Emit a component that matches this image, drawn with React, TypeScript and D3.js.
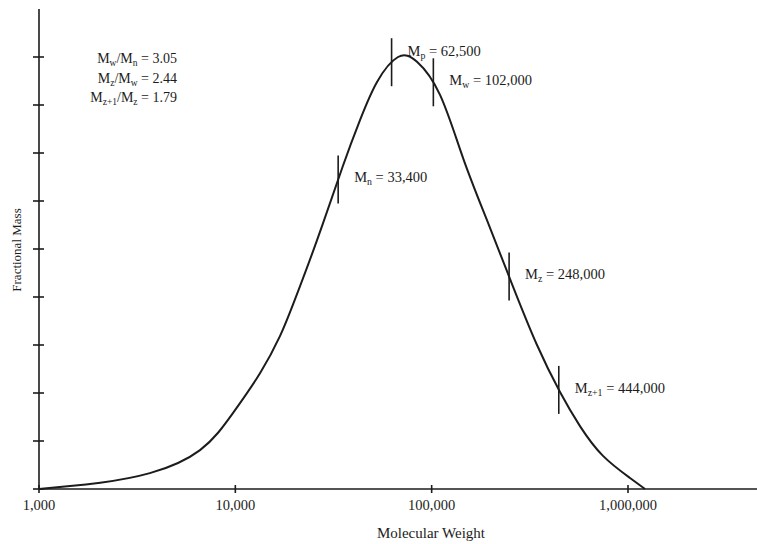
import React, { useLayoutEffect, useRef, useState } from "react";
import * as d3 from "d3";

// Distribution curve: molecular weight vs fractional mass (tick units)
const curveMW = [1000, 1440, 2050, 3670, 6610, 9720, 13400, 16900, 19700, 26100, 35300, 43200, 52700, 67400, 84200, 110300, 144400, 191300, 256600, 344000, 450500, 569400, 745900, 1024000, 1221000];
const curveMass = [0, 0.06, 0.13, 0.33, 0.81, 1.58, 2.42, 3.19, 3.85, 5.19, 6.73, 7.69, 8.48, 9.0, 8.9, 8.21, 6.9, 5.6, 4.27, 3.0, 2.02, 1.31, 0.69, 0.23, 0];

// Molecular weight averages
const markerSubs = ["n", "p", "w", "z", "z+1"];
const markerValues = [33400, 62500, 102000, 248000, 444000];

// Ratios shown top-left
const ratioNum = ["w", "z", "z+1"];
const ratioDen = ["n", "w", "z"];
const ratioValues = ["3.05", "2.44", "1.79"];

// Axis ticks
const xTicks = [1000, 10000, 100000, 1000000];
const yTicks = [0, 1, 2, 3, 4, 5, 6, 7, 8, 9];

const W = 757;
const H = 544;
const FONT = "'Liberation Serif', 'Times New Roman', serif";
const INK = "#1c1c1c";
const HALF = 24;

function Sub({ s, size }: { s: string; size: number }) {
  return (
    <>
      <tspan dy={3} fontSize={size * 0.68}>{s}</tspan>
      <tspan dy={-3}>{"\u200B"}</tspan>
    </>
  );
}

export default function App() {
  const x = d3.scaleLog().domain([1000, 1000000]).range([39, 628]);
  const y = d3.scaleLinear().domain([0, 10]).range([489, 9]);

  const pts: [number, number][] = curveMW.map((m, i) => [x(m), y(curveMass[i])]);
  const line = d3.line().curve(d3.curveNatural)(pts) || "";

  const logs = curveMW.map((v) => Math.log10(v));
  const interp = (m: number) => {
    const lx = Math.log10(m);
    const i = Math.max(1, d3.bisectLeft(logs, lx));
    const t = (lx - logs[i - 1]) / (logs[i] - logs[i - 1]);
    return y(curveMass[i - 1] + t * (curveMass[i] - curveMass[i - 1]));
  };

  const pathRef = useRef<SVGPathElement>(null);
  const [onCurve, setOnCurve] = useState<number[] | null>(null);

  useLayoutEffect(() => {
    const p = pathRef.current;
    if (!p || !p.getTotalLength) return;
    const L = p.getTotalLength();
    const samples: { x: number; y: number }[] = [];
    for (let l = 0; l <= L; l += 0.5) {
      const q = p.getPointAtLength(l);
      samples.push({ x: q.x, y: q.y });
    }
    const ys = markerValues.map((m) => {
      const cx = x(m);
      let best = samples[0];
      let bd = Infinity;
      for (const s of samples) {
        const d = Math.abs(s.x - cx);
        if (d < bd) {
          bd = d;
          best = s;
        }
      }
      return best.y;
    });
    setOnCurve(ys);
  }, []);

  const fs = 14.5;
  const fmt = d3.format(",");

  const cys = markerValues.map((m, i) => (onCurve ? onCurve[i] : interp(m)));
  // label baselines: next to the marker, lifted if it would run into the next marker line
  const labelY = markerValues.map((m, i) => {
    let b = cys[i] + 3;
    const next = i + 1;
    if (next < markerValues.length) {
      const labelEnd = x(m) + 16 + 80;
      const nextTop = cys[next] - HALF;
      const nextBottom = cys[next] + HALF;
      const overlapsV = b > nextTop - 2 && b - 12 < nextBottom;
      if (x(markerValues[next]) < labelEnd && overlapsV) b = nextTop - 2;
    }
    return b;
  });

  return (
    <div style={{ position: "fixed", left: 0, top: 0 }}>
      <svg width={W} height={H} style={{ display: "block", background: "#fff" }} fontFamily={FONT}>
        {/* y axis */}
        <line x1={x(1000)} x2={x(1000)} y1={y(10)} y2={y(0)} stroke={INK} strokeWidth={1.6} />
        {yTicks.map((t) => (
          <line key={t} x1={x(1000) - 6} x2={x(1000) + 5} y1={y(t)} y2={y(t)} stroke={INK} strokeWidth={1.6} />
        ))}
        {/* x axis */}
        <line x1={x(1000)} x2={W} y1={y(0)} y2={y(0)} stroke={INK} strokeWidth={1.6} />
        {xTicks.map((t) => (
          <g key={t}>
            <line x1={x(t)} x2={x(t)} y1={y(0) - 4} y2={y(0) + 4} stroke={INK} strokeWidth={1.6} />
            <text x={x(t)} y={y(0) + 21} textAnchor="middle" fontSize={fs} fill={INK}>{fmt(t)}</text>
          </g>
        ))}
        <text x={431} y={538} textAnchor="middle" fontSize={15} fill={INK}>Molecular Weight</text>
        <text transform={`translate(21,250) rotate(-90)`} textAnchor="middle" fontSize={13} fill={INK}>Fractional Mass</text>

        {/* curve */}
        <path ref={pathRef} d={line} fill="none" stroke={INK} strokeWidth={2} />

        {/* markers */}
        {markerValues.map((m, i) => {
          const cx = x(m);
          const cy = cys[i];
          return (
            <g key={m}>
              <line x1={cx} x2={cx} y1={cy - HALF} y2={cy + HALF} stroke={INK} strokeWidth={1.6} />
              <text x={cx + 16} y={labelY[i]} fontSize={fs} fill={INK}>
                M<Sub s={markerSubs[i]} size={fs} />{` = ${fmt(m)}`}
              </text>
            </g>
          );
        })}

        {/* ratios */}
        {ratioValues.map((v, i) => (
          <text key={i} x={177} y={63 + i * 19.5} textAnchor="end" fontSize={14} fill={INK}>
            M<Sub s={ratioNum[i]} size={14} />/M<Sub s={ratioDen[i]} size={14} />{` = ${v}`}
          </text>
        ))}
      </svg>
    </div>
  );
}
